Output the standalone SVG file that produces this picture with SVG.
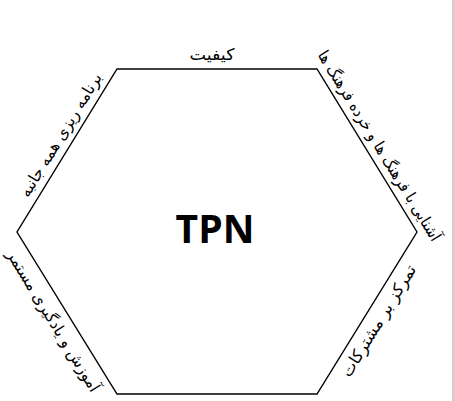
<svg xmlns="http://www.w3.org/2000/svg" width="454" height="401" viewBox="0 0 454 401">
<style>
.edge{fill:#fff;stroke:#000;stroke-width:1.4}
.lbl{font-family:"DejaVu Sans",sans-serif;font-size:16px;fill:#000;text-anchor:middle}
.big{font-family:"Open Sans","Liberation Sans",sans-serif;font-size:39px;font-weight:bold;fill:#000;text-anchor:middle}
</style>
<rect x="0" y="0" width="454" height="401" fill="#fff"/>
<line x1="453" y1="0" x2="453" y2="401" stroke="#9a9a9a" stroke-width="1"/>
<g id="hexagon">
<polygon class="edge" points="117,69 317,69 417,232 317,394 117,394 17,232"/>
<text class="big" x="215" y="243">TPN</text>
</g>
<g id="label-top">
<text class="lbl" x="212" y="60" textLength="45" lengthAdjust="spacingAndGlyphs">کیفیت</text>
</g>
<g id="label-upper-left" transform="translate(61,135) rotate(-58.5)">
<text class="lbl" x="0" y="5" textLength="142" lengthAdjust="spacingAndGlyphs">برنامه ریزی همه جانبه</text>
</g>
<g id="label-upper-right" transform="translate(379,146) rotate(58.5)">
<text class="lbl" x="0" y="5" textLength="220" lengthAdjust="spacingAndGlyphs">آشنایی با فرهنگ ها و خرده فرهنگ ها</text>
</g>
<g id="label-lower-left" transform="translate(53,321) rotate(58.5)">
<text class="lbl" x="0" y="5" textLength="163" lengthAdjust="spacingAndGlyphs">آموزش و یادگیری مستمر</text>
</g>
<g id="label-lower-right" transform="translate(379,321) rotate(-58.5)">
<text class="lbl" x="0" y="5" textLength="128" lengthAdjust="spacingAndGlyphs">تمرکز بر مشترکات</text>
</g>
</svg>
